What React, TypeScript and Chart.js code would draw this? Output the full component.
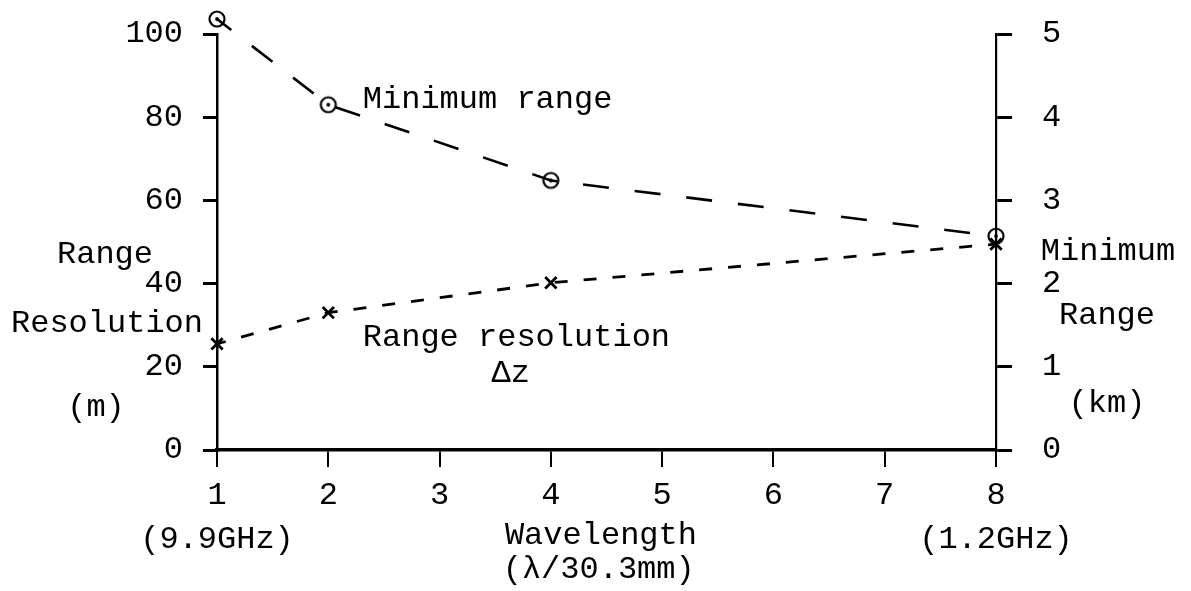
import React, { useEffect, useRef } from 'react';
import { Chart, registerables } from 'chart.js';

Chart.register(...registerables);

// ---- data ----
const wavelengthRatio = [1, 2, 4, 8];
const minimumRangeKm = [5.18, 4.15, 3.24, 2.57];
const rangeResolutionM = [25.5, 33, 40.2, 49.5];

const xTickNumbers = [1, 2, 3, 4, 5, 6, 7, 8];
const xTickFrequencies = ['(9.9GHz)', '', '', '', '', '', '', '(1.2GHz)'];
const leftTicks = [0, 20, 40, 60, 80, 100];
const rightTicks = [0, 1, 2, 3, 4, 5];

const leftAxisTitle = ['Range', 'Resolution', '(m)'];
const rightAxisTitle = ['Minimum', 'Range', '(km)'];
const xAxisTitle = ['Wavelength', '(λ/30.3mm)'];
const seriesNotes = ['Minimum range', 'Range resolution', 'Δz'];

const FONT_FAMILY = "'Liberation Mono', 'DejaVu Sans Mono', monospace";
const FONT_SIZE = 32;

function makeDotCircle(): HTMLCanvasElement {
  const c = document.createElement('canvas');
  c.width = 22;
  c.height = 22;
  const g = c.getContext('2d')!;
  g.strokeStyle = '#000';
  g.fillStyle = '#000';
  g.lineWidth = 2.2;
  g.beginPath();
  g.arc(11, 11, 7.5, 0, Math.PI * 2);
  g.stroke();
  g.beginPath();
  g.arc(11, 11, 1.9, 0, Math.PI * 2);
  g.fill();
  return c;
}

// Draw markers that lie just outside the chart area (Chart.js skips them otherwise)
const overflowPointsPlugin = {
  id: 'overflowPoints',
  afterDatasetsDraw(chart: any) {
    const { ctx, chartArea } = chart;
    const full = { left: 0, top: 0, right: chart.width, bottom: chart.height };
    chart.data.datasets.forEach((_: any, di: number) => {
      const meta = chart.getDatasetMeta(di);
      meta.data.forEach((el: any) => {
        if (el.y < chartArea.top - 1 || el.y > chartArea.bottom + 1) {
          el.draw(ctx, full);
        }
      });
    });
  },
};

const textPlugin = {
  id: 'textLabels',
  afterDraw(chart: any) {
    const { ctx, chartArea, scales } = chart;
    const xs = scales.x;
    const yl = scales.y;
    const yr = scales.y1;
    ctx.save();
    ctx.fillStyle = '#000';
    ctx.font = `${FONT_SIZE}px ${FONT_FAMILY}`;
    ctx.textBaseline = 'middle';

    // left axis title
    ctx.textAlign = 'center';
    ctx.fillText(leftAxisTitle[0], chartArea.left - 112, yl.getPixelForValue(46.9));
    ctx.fillText(leftAxisTitle[1], chartArea.left - 110, yl.getPixelForValue(30.5));
    ctx.fillText(leftAxisTitle[2], chartArea.left - 121, yl.getPixelForValue(10.3));

    // right axis title
    ctx.fillText(rightAxisTitle[0], chartArea.right + 112, yr.getPixelForValue(2.38));
    ctx.fillText(rightAxisTitle[1], chartArea.right + 111, yr.getPixelForValue(1.62));
    ctx.fillText(rightAxisTitle[2], chartArea.right + 111, yr.getPixelForValue(0.56));

    // x axis title
    ctx.fillText(xAxisTitle[0], xs.getPixelForValue(4.45), chartArea.bottom + 86);
    ctx.fillText(xAxisTitle[1], xs.getPixelForValue(4.43), chartArea.bottom + 120);

    // series notes
    ctx.textAlign = 'left';
    ctx.fillText(seriesNotes[0], xs.getPixelForValue(2.31), yl.getPixelForValue(84.2));
    ctx.fillText(seriesNotes[1], xs.getPixelForValue(2.31), yl.getPixelForValue(27));
    ctx.textAlign = 'center';
    ctx.fillText(seriesNotes[2], xs.getPixelForValue(3.64), yl.getPixelForValue(18.5));
    ctx.restore();
  },
};

export default function App() {
  const canvasRef = useRef<HTMLCanvasElement | null>(null);

  useEffect(() => {
    if (!canvasRef.current) return;
    const dotCircle = makeDotCircle();
    const tickFont = { family: FONT_FAMILY, size: FONT_SIZE, lineHeight: 1.36 };

    const chart = new Chart(canvasRef.current, {
      type: 'line',
      data: {
        datasets: [
          {
            label: 'Minimum range',
            data: wavelengthRatio.map((x, i) => ({ x, y: minimumRangeKm[i] })),
            yAxisID: 'y1',
            borderColor: '#000',
            borderWidth: 2.6,
            borderDash: [26, 26],
            borderDashOffset: 8,
            pointStyle: dotCircle as any,
            pointRadius: 8,
            fill: false,
            tension: 0,
            clip: false as any,
          },
          {
            label: 'Range resolution',
            data: wavelengthRatio.map((x, i) => ({ x, y: rangeResolutionM[i] })),
            yAxisID: 'y',
            borderColor: '#000',
            borderWidth: 2.8,
            borderDash: [13, 16],
            borderDashOffset: 4,
            pointStyle: 'crossRot',
            pointRadius: 8,
            pointBorderWidth: 2.8,
            pointBorderColor: '#000',
            fill: false,
            tension: 0,
            clip: false as any,
          },
        ],
      },
      options: {
        animation: false,
        responsive: false,
        devicePixelRatio: 1,
        events: [],
        layout: { padding: { top: 34, left: 0, right: 0, bottom: 0 } },
        plugins: {
          legend: { display: false },
          tooltip: { enabled: false },
        },
        scales: {
          x: {
            type: 'linear',
            position: 'bottom',
            min: 1,
            max: 8,
            afterBuildTicks: (s: any) => {
              s.ticks = xTickNumbers.map((v) => ({ value: v }));
            },
            ticks: {
              color: '#000',
              font: tickFont,
              padding: 7,
              maxRotation: 0,
              autoSkip: false,
              callback: (v: any) => {
                const i = xTickNumbers.indexOf(Number(v));
                const f = i >= 0 ? xTickFrequencies[i] : '';
                return f ? [String(v), f] : String(v);
              },
            },
            grid: {
              display: true,
              drawOnChartArea: false,
              drawTicks: true,
              tickLength: 17,
              color: '#000',
              lineWidth: 2,
            },
            border: { display: true, color: '#000', width: 3.5 },
            afterFit: (s: any) => {
              s.height = 141;
              s.paddingLeft = 0;
              s.paddingRight = 0;
            },
          },
          y: {
            type: 'linear',
            position: 'left',
            min: 0,
            max: 100,
            afterBuildTicks: (s: any) => {
              s.ticks = leftTicks.map((v) => ({ value: v }));
            },
            ticks: { color: '#000', font: tickFont, padding: 20 },
            grid: {
              display: true,
              drawOnChartArea: false,
              drawTicks: true,
              tickLength: 14,
              color: '#000',
              lineWidth: 3,
            },
            border: { display: true, color: '#000', width: 2.5 },
            afterFit: (s: any) => {
              s.width = 217;
              s.paddingTop = 0;
              s.paddingBottom = 0;
            },
          },
          y1: {
            type: 'linear',
            position: 'right',
            min: 0,
            max: 5,
            afterBuildTicks: (s: any) => {
              s.ticks = rightTicks.map((v) => ({ value: v }));
            },
            ticks: { color: '#000', font: tickFont, padding: 30 },
            grid: {
              display: true,
              drawOnChartArea: false,
              drawTicks: true,
              tickLength: 16,
              color: '#000',
              lineWidth: 3,
            },
            border: { display: true, color: '#000', width: 2.2 },
            afterFit: (s: any) => {
              s.width = 195;
              s.paddingTop = 0;
              s.paddingBottom = 0;
            },
          },
        },
      } as any,
      plugins: [overflowPointsPlugin, textPlugin],
    });

    return () => chart.destroy();
  }, []);

  return (
    <div style={{ position: 'absolute', left: 0, top: 0, width: 1191, height: 591, background: '#fff' }}>
      <canvas ref={canvasRef} width={1191} height={591} style={{ display: 'block' }} />
    </div>
  );
}
